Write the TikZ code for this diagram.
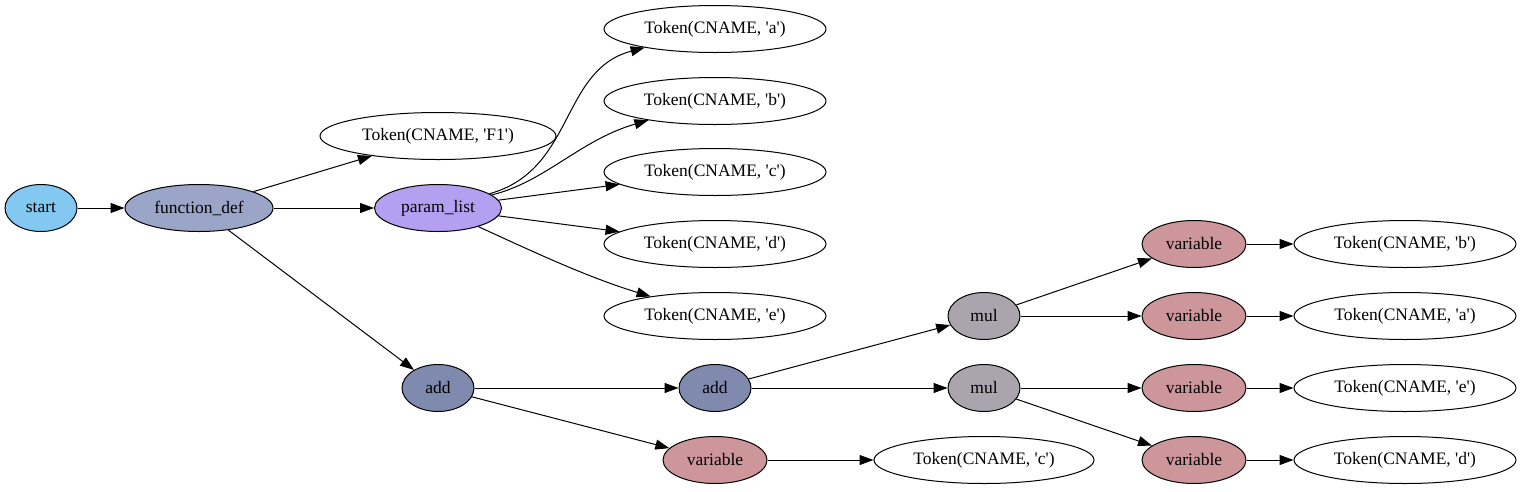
\documentclass[tikz,border=0pt]{standalone}
\usepackage{fontspec}
\setmainfont{Liberation Serif}
\usetikzlibrary{shapes.geometric,arrows.meta}
\definecolor{cstart}{RGB}{130,200,240}
\definecolor{cfdef}{RGB}{155,165,200}
\definecolor{cplist}{RGB}{180,160,240}
\definecolor{cadd}{RGB}{128,138,175}
\definecolor{cmul}{RGB}{170,164,175}
\definecolor{cvar}{RGB}{205,150,155}
\newcommand{\sq}{\textquotesingle}
\tikzset{
  nd/.style={ellipse,draw=black,line width=1pt,inner sep=0pt,minimum height=47pt,font=\rmfamily\fontsize{17.5}{20}\selectfont},
  tok/.style={nd,fill=white,minimum width=222pt},
  varn/.style={nd,fill=cvar,minimum width=104pt},
  muln/.style={nd,fill=cmul,minimum width=72pt},
  addn/.style={nd,fill=cadd,minimum width=72pt},
  edge/.style={draw=black,line width=1pt,-{Triangle[length=14pt,width=10pt]}}
}
\begin{document}
\begin{tikzpicture}[x=1pt,y=-1pt]
\useasboundingbox (0,0) rectangle (1521,491);
\node[nd,fill=cstart,minimum width=72pt] (start) at (41,208) {start};
\node[nd,fill=cfdef,minimum width=148pt] (fdef) at (199,208) {function\_def};
\node[tok,minimum width=236pt] (tf1) at (438,136) {Token(CNAME, \sq F1\sq)};
\node[nd,fill=cplist,minimum width=127pt] (pl) at (438,208) {param\_list};
\node[tok] (ta) at (715,29) {Token(CNAME, \sq a\sq)};
\node[tok] (tb) at (715,101) {Token(CNAME, \sq b\sq)};
\node[tok] (tc) at (715,172) {Token(CNAME, \sq c\sq)};
\node[tok] (td) at (715,244) {Token(CNAME, \sq d\sq)};
\node[tok] (te) at (715,316) {Token(CNAME, \sq e\sq)};
\node[addn] (add1) at (438,388) {add};
\node[addn] (add2) at (715,388) {add};
\node[varn] (vc) at (715,460) {variable};
\node[tok,minimum width=220pt] (tc2) at (984,460) {Token(CNAME, \sq c\sq)};
\node[muln] (mul1) at (984,316) {mul};
\node[muln] (mul2) at (984,388) {mul};
\node[varn] (vb) at (1194,244) {variable};
\node[varn] (va) at (1194,316) {variable};
\node[varn] (ve) at (1194,388) {variable};
\node[varn] (vd) at (1194,460) {variable};
\node[tok] (tb2) at (1405,244) {Token(CNAME, \sq b\sq)};
\node[tok] (ta2) at (1405,316) {Token(CNAME, \sq a\sq)};
\node[tok] (te2) at (1405,388) {Token(CNAME, \sq e\sq)};
\node[tok] (td2) at (1405,460) {Token(CNAME, \sq d\sq)};
\draw[edge] (start) -- (fdef);
\draw[edge] (fdef) -- (tf1);
\draw[edge] (fdef) -- (pl);
\draw[edge] (fdef) -- (add1);
\draw[edge] (pl) .. controls (575,170) and (560,70) .. (ta);
\draw[edge] (pl) .. controls (545,182) and (580,140) .. (tb);
\draw[edge] (pl) -- (tc);
\draw[edge] (pl) -- (td);
\draw[edge] (pl) .. controls (540,255) and (590,278) .. (te);
\draw[edge] (add1) -- (add2);
\draw[edge] (add1) -- (vc);
\draw[edge] (vc) -- (tc2);
\draw[edge] (add2) -- (mul1);
\draw[edge] (add2) -- (mul2);
\draw[edge] (mul1) -- (vb);
\draw[edge] (mul1) -- (va);
\draw[edge] (mul2) -- (ve);
\draw[edge] (mul2) -- (vd);
\draw[edge] (vb) -- (tb2);
\draw[edge] (va) -- (ta2);
\draw[edge] (ve) -- (te2);
\draw[edge] (vd) -- (td2);
\end{tikzpicture}
\end{document}
